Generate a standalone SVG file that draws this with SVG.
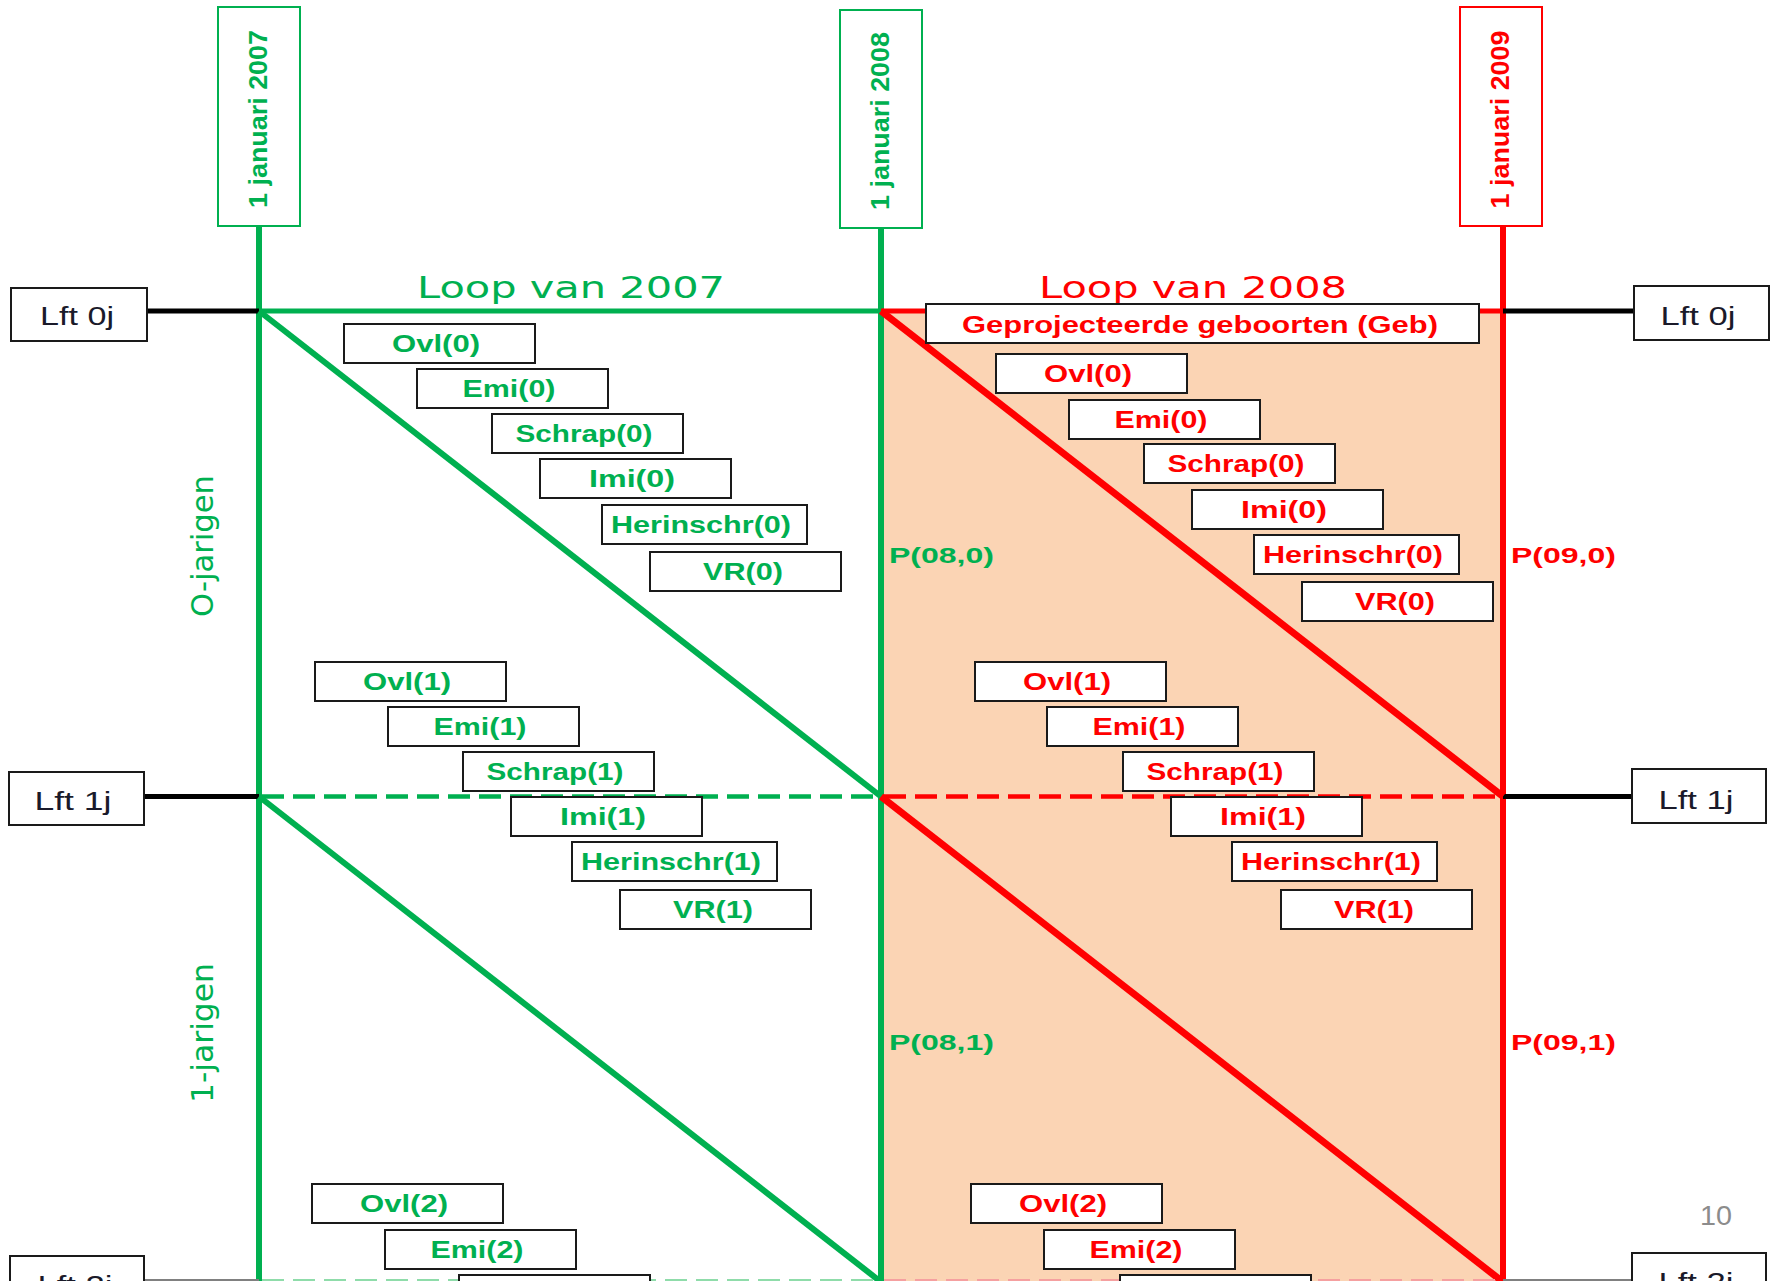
<svg xmlns="http://www.w3.org/2000/svg" width="1775" height="1281" viewBox="0 0 1775 1281">
<style>
.bx{fill:#fff;stroke:#1a1a1a;stroke-width:2}
.lb{font-family:"Liberation Sans",Arial,sans-serif;font-weight:bold;font-size:24px;text-anchor:middle}
.g{fill:#00B050}
.r{fill:#FF0000}
.ln{fill:none;stroke-width:6;stroke-linecap:butt}
.gl{stroke:#00B050}
.rl{stroke:#FF0000}
.bl{stroke:#000;stroke-width:5}
.dash{stroke-dasharray:22 9;stroke-width:4.5}
.lft{font-family:"Liberation Sans",Arial,sans-serif;font-size:25px;fill:#1a1a2a;text-anchor:middle}
.date{font-family:"Liberation Sans",Arial,sans-serif;font-weight:bold;font-size:26px;text-anchor:middle}
.title{font-family:"DejaVu Sans",Verdana,sans-serif;font-size:31px}
.pl{font-family:"Liberation Sans",Arial,sans-serif;font-weight:bold;font-size:22px}
.rot{font-family:"DejaVu Sans",Verdana,sans-serif;font-size:31px;text-anchor:middle}
</style>

<rect id="peach" x="881" y="311" width="622" height="970" fill="#FBD4B4"/>

<g id="connectors">
  <line class="ln gl" x1="259" y1="226" x2="259" y2="1281"/>
  <line class="ln gl" x1="881" y1="228" x2="881" y2="1281"/>
  <line class="ln rl" x1="1503" y1="226" x2="1503" y2="1281"/>
  <line class="ln gl" x1="256" y1="311" x2="881" y2="311" style="stroke-width:5"/>
  <line class="ln rl" x1="881" y1="311" x2="1503" y2="311" style="stroke-width:5"/>
  <line class="ln bl" x1="147" y1="311" x2="259" y2="311"/>
  <line class="ln bl" x1="1503" y1="311" x2="1634" y2="311"/>
  <line class="ln gl dash" x1="262" y1="796.5" x2="878" y2="796.5"/>
  <line class="ln rl dash" x1="884" y1="796.5" x2="1500" y2="796.5"/>
  <line class="ln bl" x1="144" y1="796.5" x2="259" y2="796.5"/>
  <line class="ln bl" x1="1503" y1="796.5" x2="1631" y2="796.5"/>
  <line class="ln gl" x1="259" y1="311" x2="881" y2="796.5"/>
  <line class="ln gl" x1="259" y1="796.5" x2="881" y2="1282"/>
  <line class="ln rl" x1="881" y1="311" x2="1503" y2="796.5" style="stroke-width:7"/>
  <line class="ln rl" x1="881" y1="796.5" x2="1503" y2="1282" style="stroke-width:7"/>
  <line x1="144" y1="1280" x2="259" y2="1280" stroke="#808080" stroke-width="2"/>
  <line x1="262" y1="1280" x2="878" y2="1280" stroke="#8fdcaa" stroke-width="2" stroke-dasharray="22 9"/>
  <line x1="884" y1="1280" x2="1500" y2="1280" stroke="#f5a0a0" stroke-width="2" stroke-dasharray="22 9"/>
  <line x1="1503" y1="1280" x2="1631" y2="1280" stroke="#808080" stroke-width="2"/>
</g>

<g id="date2007">
  <rect x="218" y="7" width="82" height="219" fill="#fff" stroke="#00B050" stroke-width="2"/>
  <text class="date g" transform="translate(267,119) rotate(-90)" textLength="178" lengthAdjust="spacingAndGlyphs">1 januari 2007</text>
</g>
<g id="date2008">
  <rect x="840" y="10" width="82" height="218" fill="#fff" stroke="#00B050" stroke-width="2"/>
  <text class="date g" transform="translate(889,121) rotate(-90)" textLength="178" lengthAdjust="spacingAndGlyphs">1 januari 2008</text>
</g>
<g id="date2009">
  <rect x="1460" y="7" width="82" height="219" fill="#fff" stroke="#FF0000" stroke-width="2"/>
  <text class="date r" transform="translate(1509,119.5) rotate(-90)" textLength="178" lengthAdjust="spacingAndGlyphs">1 januari 2009</text>
</g>

<g id="titles">
  <text class="title g" x="417" y="298" textLength="308" lengthAdjust="spacingAndGlyphs">Loop van 2007</text>
  <text class="title r" x="1039" y="298" textLength="308" lengthAdjust="spacingAndGlyphs">Loop van 2008</text>
</g>

<g id="age-labels">
  <text class="rot g" transform="translate(213,546) rotate(-90)" textLength="142" lengthAdjust="spacingAndGlyphs">O-jarigen</text>
  <text class="rot g" transform="translate(213,1033) rotate(-90)" textLength="140" lengthAdjust="spacingAndGlyphs">1-jarigen</text>
</g>

<g id="lft-left-0"><rect class="bx" x="11" y="288" width="136" height="53"/><text class="lft" x="77" y="325" textLength="74" lengthAdjust="spacingAndGlyphs">Lft 0j</text></g>
<g id="lft-right-0"><rect class="bx" x="1634" y="286" width="135" height="54"/><text class="lft" x="1698" y="325" textLength="75" lengthAdjust="spacingAndGlyphs">Lft 0j</text></g>
<g id="lft-left-1"><rect class="bx" x="9" y="772" width="135" height="53"/><text class="lft" x="73" y="810" textLength="77" lengthAdjust="spacingAndGlyphs">Lft 1j</text></g>
<g id="lft-right-1"><rect class="bx" x="1632" y="769" width="134" height="54"/><text class="lft" x="1696" y="809" textLength="75" lengthAdjust="spacingAndGlyphs">Lft 1j</text></g>
<g id="lft-left-2"><rect class="bx" x="10" y="1256" width="134" height="54"/><text class="lft" x="75" y="1294" textLength="75" lengthAdjust="spacingAndGlyphs">Lft 2j</text></g>
<g id="lft-right-2"><rect class="bx" x="1632" y="1253" width="134" height="54"/><text class="lft" x="1696" y="1291" textLength="75" lengthAdjust="spacingAndGlyphs">Lft 2j</text></g>

<g id="geb"><rect class="bx" x="926" y="304" width="553" height="39"/><text class="lb r" x="1200" y="333" textLength="476" lengthAdjust="spacingAndGlyphs">Geprojecteerde geboorten (Geb)</text></g>

<g id="g-ovl0"><rect class="bx" x="344" y="324" width="191" height="39"/><text class="lb g" x="436" y="352" textLength="88" lengthAdjust="spacingAndGlyphs">Ovl(0)</text></g>
<g id="g-emi0"><rect class="bx" x="417" y="369" width="191" height="39"/><text class="lb g" x="509" y="397" textLength="93" lengthAdjust="spacingAndGlyphs">Emi(0)</text></g>
<g id="g-schrap0"><rect class="bx" x="492" y="414" width="191" height="39"/><text class="lb g" x="584" y="442" textLength="137" lengthAdjust="spacingAndGlyphs">Schrap(0)</text></g>
<g id="g-imi0"><rect class="bx" x="540" y="459" width="191" height="39"/><text class="lb g" x="632" y="487" textLength="86" lengthAdjust="spacingAndGlyphs">Imi(0)</text></g>
<g id="g-herinschr0"><rect class="bx" x="602" y="505" width="205" height="39"/><text class="lb g" x="701" y="533" textLength="180" lengthAdjust="spacingAndGlyphs">Herinschr(0)</text></g>
<g id="g-vr0"><rect class="bx" x="650" y="552" width="191" height="39"/><text class="lb g" x="743" y="580" textLength="80" lengthAdjust="spacingAndGlyphs">VR(0)</text></g>

<g id="g-ovl1"><rect class="bx" x="315" y="662" width="191" height="39"/><text class="lb g" x="407" y="690" textLength="88" lengthAdjust="spacingAndGlyphs">Ovl(1)</text></g>
<g id="g-emi1"><rect class="bx" x="388" y="707" width="191" height="39"/><text class="lb g" x="480" y="735" textLength="93" lengthAdjust="spacingAndGlyphs">Emi(1)</text></g>
<g id="g-schrap1"><rect class="bx" x="463" y="752" width="191" height="39"/><text class="lb g" x="555" y="780" textLength="137" lengthAdjust="spacingAndGlyphs">Schrap(1)</text></g>
<g id="g-imi1"><rect class="bx" x="511" y="797" width="191" height="39"/><text class="lb g" x="603" y="825" textLength="86" lengthAdjust="spacingAndGlyphs">Imi(1)</text></g>
<g id="g-herinschr1"><rect class="bx" x="572" y="842" width="205" height="39"/><text class="lb g" x="671" y="870" textLength="180" lengthAdjust="spacingAndGlyphs">Herinschr(1)</text></g>
<g id="g-vr1"><rect class="bx" x="620" y="890" width="191" height="39"/><text class="lb g" x="713" y="918" textLength="80" lengthAdjust="spacingAndGlyphs">VR(1)</text></g>

<g id="g-ovl2"><rect class="bx" x="312" y="1184" width="191" height="39"/><text class="lb g" x="404" y="1212" textLength="88" lengthAdjust="spacingAndGlyphs">Ovl(2)</text></g>
<g id="g-emi2"><rect class="bx" x="385" y="1230" width="191" height="39"/><text class="lb g" x="477" y="1258" textLength="93" lengthAdjust="spacingAndGlyphs">Emi(2)</text></g>
<g id="g-schrap2"><rect class="bx" x="459" y="1275" width="191" height="39"/></g>

<g id="r-ovl0"><rect class="bx" x="996" y="354" width="191" height="39"/><text class="lb r" x="1088" y="382" textLength="88" lengthAdjust="spacingAndGlyphs">Ovl(0)</text></g>
<g id="r-emi0"><rect class="bx" x="1069" y="400" width="191" height="39"/><text class="lb r" x="1161" y="428" textLength="93" lengthAdjust="spacingAndGlyphs">Emi(0)</text></g>
<g id="r-schrap0"><rect class="bx" x="1144" y="444" width="191" height="39"/><text class="lb r" x="1236" y="472" textLength="137" lengthAdjust="spacingAndGlyphs">Schrap(0)</text></g>
<g id="r-imi0"><rect class="bx" x="1192" y="490" width="191" height="39"/><text class="lb r" x="1284" y="518" textLength="86" lengthAdjust="spacingAndGlyphs">Imi(0)</text></g>
<g id="r-herinschr0"><rect class="bx" x="1254" y="535" width="205" height="39"/><text class="lb r" x="1353" y="563" textLength="180" lengthAdjust="spacingAndGlyphs">Herinschr(0)</text></g>
<g id="r-vr0"><rect class="bx" x="1302" y="582" width="191" height="39"/><text class="lb r" x="1395" y="610" textLength="80" lengthAdjust="spacingAndGlyphs">VR(0)</text></g>

<g id="r-ovl1"><rect class="bx" x="975" y="662" width="191" height="39"/><text class="lb r" x="1067" y="690" textLength="88" lengthAdjust="spacingAndGlyphs">Ovl(1)</text></g>
<g id="r-emi1"><rect class="bx" x="1047" y="707" width="191" height="39"/><text class="lb r" x="1139" y="735" textLength="93" lengthAdjust="spacingAndGlyphs">Emi(1)</text></g>
<g id="r-schrap1"><rect class="bx" x="1123" y="752" width="191" height="39"/><text class="lb r" x="1215" y="780" textLength="137" lengthAdjust="spacingAndGlyphs">Schrap(1)</text></g>
<g id="r-imi1"><rect class="bx" x="1171" y="797" width="191" height="39"/><text class="lb r" x="1263" y="825" textLength="86" lengthAdjust="spacingAndGlyphs">Imi(1)</text></g>
<g id="r-herinschr1"><rect class="bx" x="1232" y="842" width="205" height="39"/><text class="lb r" x="1331" y="870" textLength="180" lengthAdjust="spacingAndGlyphs">Herinschr(1)</text></g>
<g id="r-vr1"><rect class="bx" x="1281" y="890" width="191" height="39"/><text class="lb r" x="1374" y="918" textLength="80" lengthAdjust="spacingAndGlyphs">VR(1)</text></g>

<g id="r-ovl2"><rect class="bx" x="971" y="1184" width="191" height="39"/><text class="lb r" x="1063" y="1212" textLength="88" lengthAdjust="spacingAndGlyphs">Ovl(2)</text></g>
<g id="r-emi2"><rect class="bx" x="1044" y="1230" width="191" height="39"/><text class="lb r" x="1136" y="1258" textLength="93" lengthAdjust="spacingAndGlyphs">Emi(2)</text></g>
<g id="r-schrap2"><rect class="bx" x="1120" y="1275" width="191" height="39"/></g>

<g id="p-labels">
  <text class="pl g" x="889" y="563" textLength="105" lengthAdjust="spacingAndGlyphs">P(08,0)</text>
  <text class="pl r" x="1511" y="563" textLength="105" lengthAdjust="spacingAndGlyphs">P(09,0)</text>
  <text class="pl g" x="889" y="1050" textLength="105" lengthAdjust="spacingAndGlyphs">P(08,1)</text>
  <text class="pl r" x="1511" y="1050" textLength="105" lengthAdjust="spacingAndGlyphs">P(09,1)</text>
</g>

<text id="page" x="1700" y="1225" font-family="Liberation Sans, Arial, sans-serif" font-size="28" fill="#8c8c8c" textLength="32" lengthAdjust="spacingAndGlyphs">10</text>
</svg>
